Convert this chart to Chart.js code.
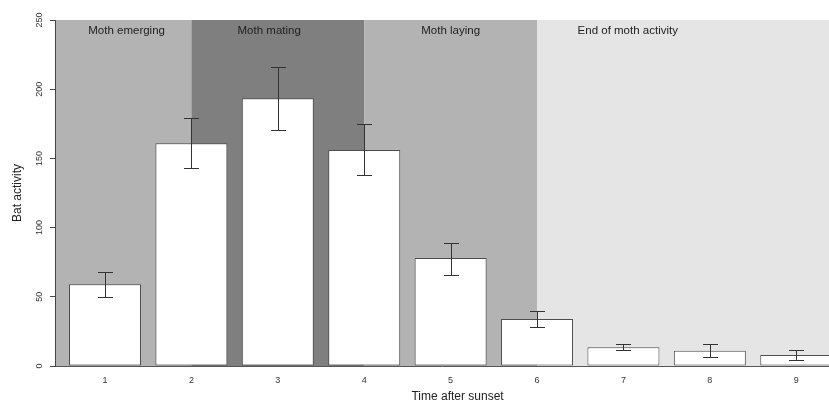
<!DOCTYPE html>
<html>
<head>
<meta charset="utf-8">
<script src="https://cdn.jsdelivr.net/npm/chart.js@4.4.1/dist/chart.umd.min.js"></script>
<style>
  html, body { margin: 0; padding: 0; background: #fff; }
  #wrap { width: 829px; height: 406px; }
</style>
</head>
<body>
<div id="wrap"><canvas id="batChart"></canvas></div>
<script>
// data
const hours = [1, 2, 3, 4, 5, 6, 7, 8, 9];
const activity = [59, 161, 193.5, 156, 78, 34, 13.5, 11, 8];
const errLow = [50, 143, 170.5, 138, 66, 28, 11.3, 6.7, 4.6];
const errHigh = [68, 179, 216, 175, 89, 40, 15.7, 15.7, 11.8];
const yTicks = [0, 50, 100, 150, 200, 250];

// moth phases: bands run between bar centres
const phaseNames = ['Moth emerging', 'Moth mating', 'Moth laying', 'End of moth activity'];
const phaseEnds = [2, 4, 6, null];
const phaseColors = ['#b3b3b3', '#7f7f7f', '#b3b3b3', '#e5e5e5'];
const phaseLabelAt = [1.25, 2.9, 5, 7.05];

const axisFont = '"Liberation Sans", Arial, Helvetica, sans-serif';

const phaseBands = {
    id: 'phaseBands',
    beforeDraw: function (chart) {
        const ctx = chart.ctx;
        const x = chart.scales.x, y = chart.scales.y;
        const area = chart.chartArea;
        const top = y.getPixelForValue(250), bottom = y.getPixelForValue(0);
        let start = area.left;
        ctx.save();
        phaseNames.forEach(function (name, i) {
            const end = phaseEnds[i] === null ? area.right : x.getPixelForValue(phaseEnds[i]);
            ctx.fillStyle = phaseColors[i];
            ctx.fillRect(start, top, end - start, bottom - top);
            start = end;
        });
        ctx.fillStyle = '#222';
        ctx.font = '11.5px ' + axisFont;
        ctx.textAlign = 'center';
        ctx.textBaseline = 'middle';
        phaseNames.forEach(function (name, i) {
            ctx.fillText(name, x.getPixelForValue(phaseLabelAt[i]), top + 11);
        });
        ctx.restore();
    }
};

const errorBars = {
    id: 'errorBars',
    afterDatasetsDraw: function (chart) {
        const ctx = chart.ctx;
        const x = chart.scales.x, y = chart.scales.y;
        ctx.save();
        ctx.strokeStyle = '#333';
        ctx.lineWidth = 1;
        hours.forEach(function (h, i) {
            const px = Math.round(x.getPixelForValue(h)) + 0.5;
            const lo = Math.round(y.getPixelForValue(errLow[i])) + 0.5;
            const hi = Math.round(y.getPixelForValue(errHigh[i])) + 0.5;
            ctx.beginPath();
            ctx.moveTo(px, lo); ctx.lineTo(px, hi);
            ctx.moveTo(px - 7.5, lo); ctx.lineTo(px + 7.5, lo);
            ctx.moveTo(px - 7.5, hi); ctx.lineTo(px + 7.5, hi);
            ctx.stroke();
        });
        ctx.restore();
    }
};

// R style labels: rotated y ticks, axis titles
const axisText = {
    id: 'axisText',
    afterDraw: function (chart) {
        const ctx = chart.ctx;
        const x = chart.scales.x, y = chart.scales.y;
        const area = chart.chartArea;
        ctx.save();
        ctx.fillStyle = '#333';
        ctx.font = '9px ' + axisFont;
        ctx.textAlign = 'center';
        ctx.textBaseline = 'middle';
        yTicks.forEach(function (v) {
            ctx.save();
            ctx.translate(40, y.getPixelForValue(v));
            ctx.rotate(-Math.PI / 2);
            ctx.fillText(String(v), 0, 0);
            ctx.restore();
        });
        hours.forEach(function (h) {
            ctx.fillText(String(h), x.getPixelForValue(h), 381);
        });
        ctx.fillStyle = '#222';
        ctx.font = '12px ' + axisFont;
        ctx.fillText('Time after sunset', x.getPixelForValue(5.08), 397);
        ctx.save();
        ctx.translate(18, (area.top + area.bottom) / 2);
        ctx.rotate(-Math.PI / 2);
        ctx.fillText('Bat activity', 0, 0);
        ctx.restore();
        ctx.restore();
    }
};

new Chart(document.getElementById('batChart'), {
    type: 'bar',
    data: {
        datasets: [{
            label: 'Bat activity',
            data: hours.map(function (h, i) { return { x: h, y: activity[i] }; }),
            backgroundColor: '#ffffff',
            borderColor: '#4d4d4d',
            borderWidth: 1,
            borderSkipped: false,
            categoryPercentage: 1,
            barPercentage: 0.8333
        }]
    },
    options: {
        responsive: true,
        maintainAspectRatio: false,
        animation: false,
        layout: { padding: { left: 50, right: 0, top: 20, bottom: 32 } },
        plugins: {
            legend: { display: false },
            tooltip: { enabled: false }
        },
        scales: {
            x: {
                type: 'linear',
                offset: false,
                min: 0.4213,
                max: 9.379,
                grid: { display: false },
                ticks: { display: false },
                border: { display: true, color: '#555', width: 1 }
            },
            y: {
                min: 0,
                max: 250,
                afterBuildTicks: function (scale) {
                    scale.ticks = yTicks.map(function (v) { return { value: v }; });
                },
                grid: { drawOnChartArea: false, drawTicks: true, tickLength: 5, color: '#444' },
                ticks: { display: false },
                border: { display: true, color: '#444', width: 1 }
            }
        }
    },
    plugins: [phaseBands, errorBars, axisText]
});
</script>
</body>
</html>
